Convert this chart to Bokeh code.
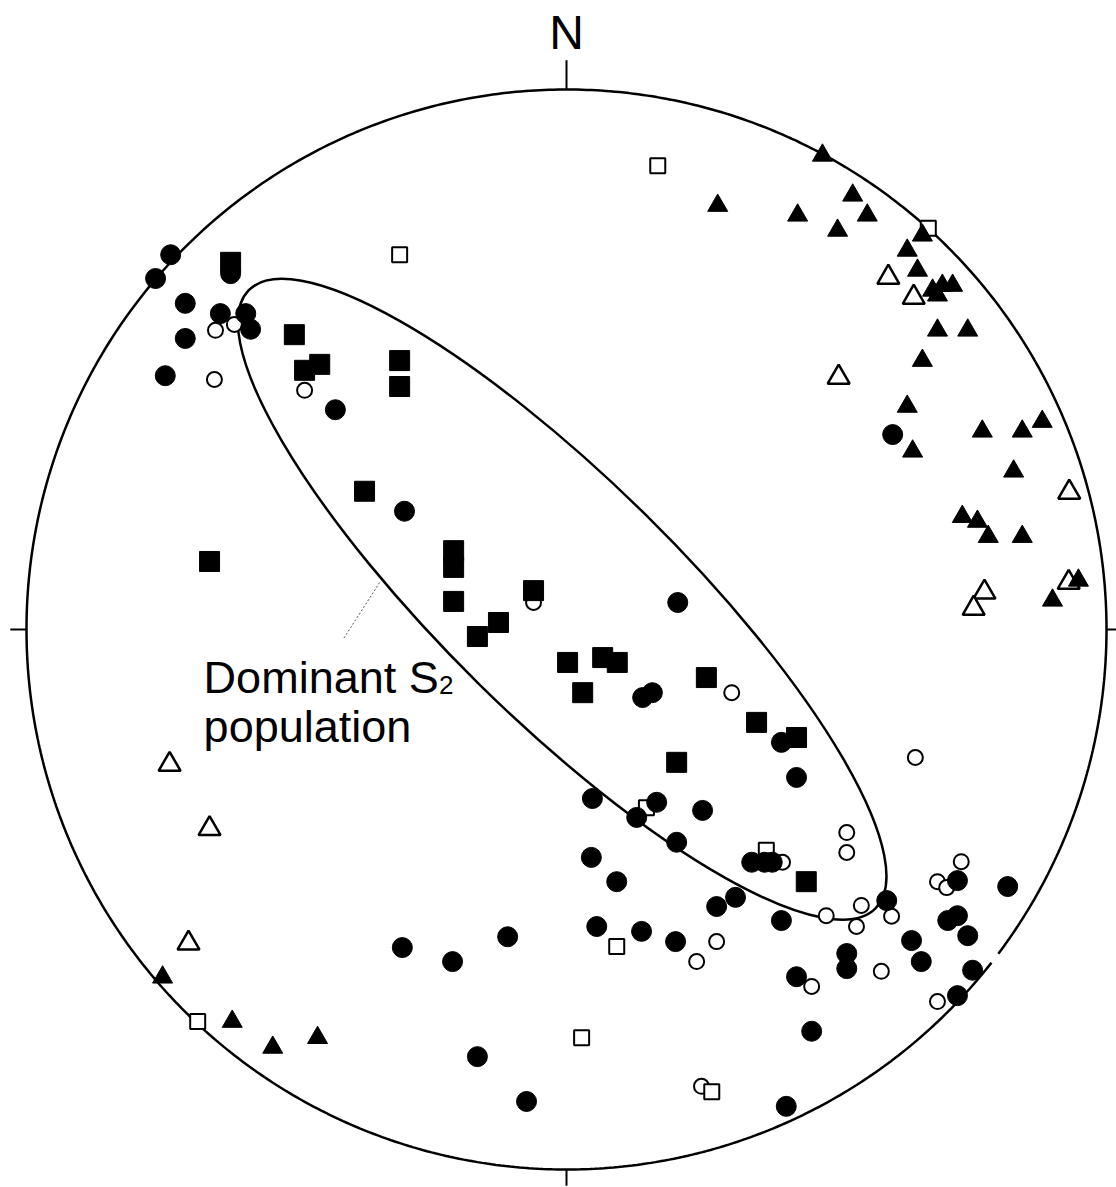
import numpy as np
from bokeh.plotting import figure
from bokeh.models import Range1d
from bokeh.core.properties import value
from bokeh.embed import file_html
from bokeh.resources import INLINE

# ---- data: equal-area net coordinates (east, north) on the unit primitive circle ----
# filled circles
fc_x = [-0.733, -0.761, -0.622, -0.706, -0.641, -0.594, -0.585, -0.706, -0.743, -0.428,
        -0.300, 0.206, 0.141, 0.159, 0.398, 0.426, 0.048, 0.167, 0.252, 0.130,
        0.204, 0.046, 0.093, 0.343, 0.367, 0.381, 0.313, 0.278, 0.398, 0.593,
        0.056, 0.139, 0.202, 0.519, 0.519, 0.426, 0.454, 0.724, 0.817, 0.706,
        0.724, 0.743, 0.639, 0.657, 0.752, 0.724, -0.304, -0.211, -0.109, -0.165,
        -0.074, 0.407, 0.604]
fc_y = [0.694, 0.650, 0.659, 0.604, 0.585, 0.585, 0.556, 0.539, 0.470, 0.407,
        0.219, 0.050, -0.126, -0.117, -0.209, -0.274, -0.313, -0.320, -0.335, -0.348,
        -0.394, -0.422, -0.467, -0.431, -0.431, -0.431, -0.496, -0.513, -0.539, -0.502,
        -0.550, -0.559, -0.578, -0.600, -0.628, -0.643, -0.744, -0.465, -0.476, -0.539,
        -0.530, -0.567, -0.576, -0.615, -0.631, -0.678, -0.589, -0.615, -0.569, -0.791,
        -0.874, -0.883, 0.361]
# open circles
oc_x = [-0.650, -0.615, -0.652, -0.485, -0.061, 0.306, 0.646, 0.400, 0.519, 0.519,
        0.481, 0.546, 0.602, 0.537, 0.278, 0.241, 0.583, 0.454, 0.731, 0.687,
        0.704, 0.687, 0.250]
oc_y = [0.554, 0.565, 0.463, 0.443, 0.050, -0.117, -0.237, -0.431, -0.376, -0.413,
        -0.530, -0.511, -0.531, -0.550, -0.578, -0.615, -0.633, -0.661, -0.430, -0.467,
        -0.478, -0.689, -0.846]
# filled squares
fs_x = [-0.622, -0.504, -0.457, -0.485, -0.309, -0.309, -0.374, -0.209, -0.209, -0.209,
        -0.061, -0.126, -0.165, 0.002, 0.067, 0.094, 0.030, 0.259, 0.352, 0.426,
        0.204, 0.444, -0.661]
fs_y = [0.680, 0.546, 0.491, 0.480, 0.498, 0.450, 0.256, 0.146, 0.115, 0.052,
        0.072, 0.013, -0.013, -0.061, -0.052, -0.061, -0.117, -0.089, -0.172, -0.200,
        -0.246, -0.467, 0.126]
# open squares
os_x = [0.169, 0.670, -0.309, 0.148, 0.370, 0.093, 0.028, 0.269, -0.683]
os_y = [0.859, 0.743, 0.694, -0.330, -0.409, -0.587, -0.756, -0.856, -0.726]
# filled triangles
ft_x = [0.474, 0.280, 0.428, 0.530, 0.557, 0.502, 0.659, 0.631, 0.650, 0.678,
        0.696, 0.715, 0.687, 0.687, 0.743, 0.659, 0.631, 0.641, 0.770, 0.844,
        0.881, 0.828, 0.733, 0.761, 0.781, 0.844, 0.948, 0.900, -0.748, -0.619,
        -0.544, -0.461]
ft_y = [0.878, 0.785, 0.767, 0.804, 0.767, 0.739, 0.730, 0.702, 0.665, 0.628,
        0.637, 0.637, 0.619, 0.554, 0.554, 0.498, 0.413, 0.330, 0.367, 0.367,
        0.385, 0.293, 0.209, 0.200, 0.172, 0.172, 0.091, 0.054, -0.644, -0.726,
        -0.774, -0.756]
# open triangles
ot_x = [0.596, 0.643, 0.504, 0.931, 0.774, 0.754, 0.930, -0.735, -0.661, -0.700]
ot_y = [0.652, 0.615, 0.467, 0.254, 0.069, 0.039, 0.087, -0.250, -0.369, -0.581]

# S2 population ellipse (centre, semi-axes, rotation in degrees)
ell_cx, ell_cy = -0.008, 0.056
ell_a, ell_b = 0.815, 0.22
ell_angle = -44.6

label_line1 = "Dominant S"
label_sub = "2"
label_line2 = "population"
north_label = "N"

FONT = "Liberation Sans"

p = figure(width=1116, height=1187, output_backend="svg", toolbar_location=None,
           x_range=Range1d(-566/540, 550/540), y_range=Range1d(-558/540, 629/540),
           min_border=0)
p.xaxis.visible = False
p.yaxis.visible = False
p.grid.visible = False
p.outline_line_color = None
p.background_fill_color = "white"
p.border_fill_color = "white"

# primitive circle with a small break in the lower right
gap = np.deg2rad(-37.5)
t = np.linspace(gap + np.deg2rad(0.6), gap + 2*np.pi - np.deg2rad(0.6), 720)
p.line(np.cos(t), np.sin(t), line_color="black", line_width=2.5)

# cardinal ticks
p.segment(x0=[0, -1.0, 1.0, 0], y0=[1.0, 0, 0, -1.0],
          x1=[0, -1.03, 1.03, 0], y1=[1.054, 0, 0, -1.03],
          line_color="black", line_width=2)

# ellipse
p.ellipse(x=[ell_cx], y=[ell_cy], width=[2*ell_a], height=[2*ell_b],
          angle=ell_angle, angle_units="deg", fill_alpha=0,
          line_color="black", line_width=2.5)

# leader line
p.line([-0.346, -0.413], [0.087, -0.017], line_color="#555555", line_width=1,
       line_dash="2 2")

# open markers first
p.scatter(oc_x, oc_y, marker="circle", size=15, fill_color="white",
          line_color="black", line_width=2)
p.scatter(os_x, os_y, marker="square", size=15, fill_color="white",
          line_color="black", line_width=2)
p.scatter(ot_x, ot_y, marker="triangle", size=22, fill_color="white",
          line_color="black", line_width=2.5)
# filled markers
p.scatter(fc_x, fc_y, marker="circle", size=20, fill_color="black", line_color="black")
p.scatter(ft_x, ft_y, marker="triangle", size=20, fill_color="black", line_color="black")
p.scatter(fs_x, fs_y, marker="square", size=20, fill_color="black", line_color="black")

# labels
p.text(x=[0], y=[1.105], text=[north_label], text_font=value(FONT),
       text_font_size="48px", text_align="center", text_baseline="alphabetic",
       text_color="black")
p.text(x=[-0.672], y=[-0.089], text=[label_line1], text_font=value(FONT),
       text_font_size="45px", text_align="left", text_baseline="alphabetic",
       text_color="black")
p.text(x=[-0.236], y=[-0.102], text=[label_sub], text_font=value(FONT),
       text_font_size="26px", text_align="left", text_baseline="alphabetic",
       text_color="black")
p.text(x=[-0.672], y=[-0.179], text=[label_line2], text_font=value(FONT),
       text_font_size="45px", text_align="left", text_baseline="alphabetic",
       text_color="black")

open("out.html", "w").write(file_html(p, INLINE))
